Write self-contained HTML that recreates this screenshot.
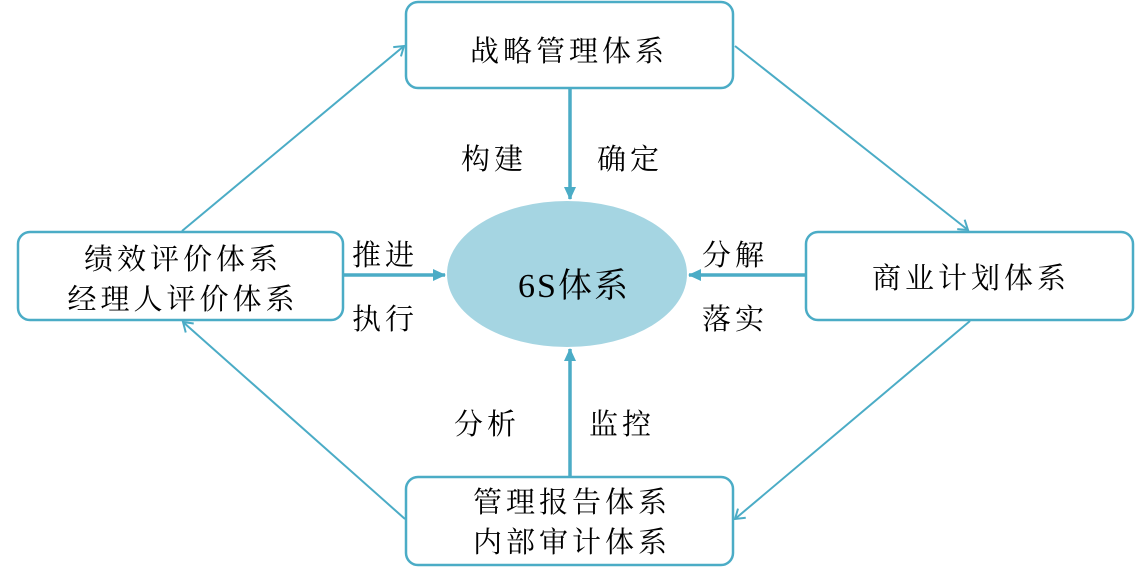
<!DOCTYPE html>
<html><head><meta charset="utf-8"><style>
html,body{margin:0;padding:0;background:#fff;}
svg text{font-family:"Liberation Serif","Noto Serif CJK SC",serif;font-size:29px;fill:#000;letter-spacing:4px;}
</style></head><body>
<svg width="1135" height="580" viewBox="0 0 1135 580" xmlns="http://www.w3.org/2000/svg">
<defs>
<marker id="o" markerWidth="14" markerHeight="14" refX="11" refY="7" orient="auto" markerUnits="userSpaceOnUse">
<path d="M2,1 L11,7 L2,13" fill="none" stroke="#4BACC6" stroke-width="2"/>
</marker>
<marker id="f" markerWidth="14" markerHeight="14" refX="12" refY="7" orient="auto" markerUnits="userSpaceOnUse">
<path d="M0,1 L13,7 L0,13 Z" fill="#4BACC6"/>
</marker>
</defs>
<g stroke="#4BACC6" stroke-width="2.5" fill="#fff">
<rect x="406" y="2" width="327" height="86" rx="12"/>
<rect x="18" y="232" width="325" height="88" rx="12"/>
<rect x="806" y="232" width="327" height="88" rx="12"/>
<rect x="406" y="477" width="327" height="88" rx="12"/>
</g>
<ellipse cx="567" cy="274" rx="120" ry="73" fill="#A5D5E2"/>
<g stroke="#4BACC6" stroke-width="3.5" fill="none">
<line x1="570" y1="89" x2="570" y2="199" marker-end="url(#f)"/>
<line x1="344" y1="275" x2="445" y2="275" marker-end="url(#f)"/>
<line x1="805" y1="275" x2="689" y2="275" marker-end="url(#f)"/>
<line x1="570" y1="476" x2="570" y2="349" marker-end="url(#f)"/>
</g>
<g stroke="#4BACC6" stroke-width="2" fill="none">
<line x1="182" y1="231" x2="404" y2="46" marker-end="url(#o)"/>
<line x1="735" y1="46" x2="968" y2="230" marker-end="url(#o)"/>
<line x1="970" y1="321" x2="735" y2="519" marker-end="url(#o)"/>
<line x1="405" y1="519" x2="183" y2="322" marker-end="url(#o)"/>
</g>
<g text-anchor="middle">
<text x="569" y="61">战略管理体系</text>
<text x="183" y="269">绩效评价体系</text>
<text x="183" y="309">经理人评价体系</text>
<text x="971" y="288">商业计划体系</text>
<text x="572" y="512">管理报告体系</text>
<text x="572" y="552">内部审计体系</text>
<text x="574" y="297" style="font-size:34px;letter-spacing:2px">6S体系</text>
<text x="494" y="169">构建</text>
<text x="630" y="169">确定</text>
<text x="385" y="265">推进</text>
<text x="385" y="329">执行</text>
<text x="735" y="265">分解</text>
<text x="735" y="329">落实</text>
<text x="487" y="434">分析</text>
<text x="622" y="434">监控</text>
</g>
</svg>
</body></html>
